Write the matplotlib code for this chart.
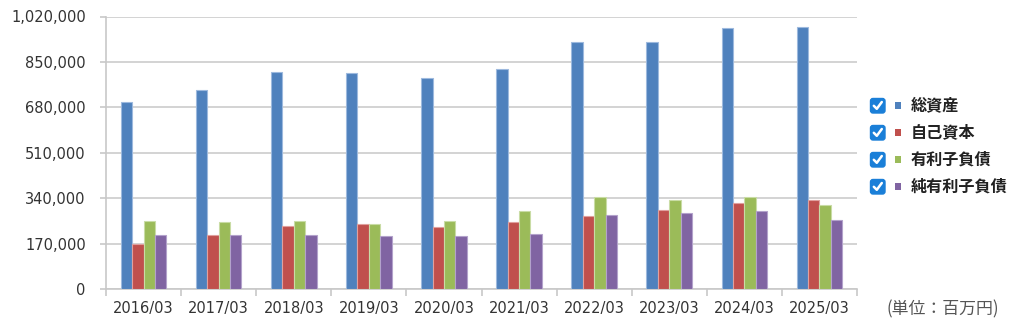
import matplotlib
matplotlib.use("Agg")
import matplotlib.pyplot as plt
import numpy as np
from matplotlib.patches import FancyBboxPatch, Rectangle
from matplotlib.ticker import FuncFormatter

plt.rcParams['font.family'] = ['DejaVu Sans', 'Noto Sans CJK JP']

years = ["2016/03", "2017/03", "2018/03", "2019/03", "2020/03",
         "2021/03", "2022/03", "2023/03", "2024/03", "2025/03"]
series_names = ["総資産", "自己資本", "有利子負債", "純有利子負債"]
total_assets = [700000, 745000, 812000, 810000, 790000, 825000, 925000, 925000, 976000, 981000]
equity = [168000, 204000, 236000, 243000, 233000, 252000, 272000, 297000, 322000, 333000]
debt = [253000, 249000, 253000, 243000, 253000, 292000, 343000, 333000, 343000, 313000]
net_debt = [204000, 204000, 204000, 198000, 198000, 207000, 278000, 283000, 293000, 257000]
y_ticks = [0, 170000, 340000, 510000, 680000, 850000, 1020000]
unit_label = "(単位：百万円)"

colors = ["#4F81BD", "#C0504D", "#9BBB59", "#8064A2"]
edges = ["#9DB9DE", "#E0A09E", "#C9DCA5", "#B3A2CB"]
values = [total_assets, equity, debt, net_debt]

fig = plt.figure(figsize=(10.24, 3.31), dpi=100)
ax = fig.add_axes([106/1024, 1-289/331, (857-106)/1024, (289-16.5)/331])

x = np.arange(len(years))
w = 0.152
for i, (vals, c, ec) in enumerate(zip(values, colors, edges)):
    ax.bar(x + (i - 1.5) * w, vals, width=w, color=c, edgecolor=ec, linewidth=0.8, zorder=3)

ax.set_xlim(-0.5, len(years) - 0.5)
ax.set_ylim(0, 1020000)
ax.set_yticks(y_ticks)
ax.yaxis.set_major_formatter(FuncFormatter(lambda v, p: f"{int(v):,}"))
ax.grid(axis='y', color='#D0D0D0', linewidth=1.3, zorder=0)
ax.set_axisbelow(True)

ax.set_xticks(x)
ax.set_xticklabels(years)
ax.set_xticks(np.arange(-0.5, len(years) + 0.5, 1), minor=True)
ax.tick_params(axis='x', which='major', length=0, pad=9, labelsize=10.5, labelcolor='#333333')
ax.tick_params(axis='x', which='minor', length=5, color='#C8C8C8', width=1.2)
ax.tick_params(axis='y', length=4.5, color='#C8C8C8', width=1.2, pad=10, labelsize=10.5, labelcolor='#333333')

for s in ['top', 'right']:
    ax.spines[s].set_visible(False)
for s in ['left', 'bottom']:
    ax.spines[s].set_color('#C8C8C8')
    ax.spines[s].set_linewidth(1.2)

# Overlay in pixel coordinates for legend + unit label
ov = fig.add_axes([0, 0, 1, 1])
ov.set_xlim(0, 1024)
ov.set_ylim(331, 0)
ov.axis('off')

row_y = [105.5, 132.5, 159.5, 186.5]
for name, c, yy in zip(series_names, colors, row_y):
    box = FancyBboxPatch((870.5, yy - 7), 14.5, 14.5,
                         boxstyle="round,pad=0,rounding_size=2.5",
                         facecolor='#1A7FD8', edgecolor='#1A7FD8', linewidth=1)
    ov.add_patch(box)
    ov.plot([873.8, 876.8, 881.8], [yy + 0.3, yy + 3.3, yy - 3.5],
            color='white', linewidth=1.8, solid_capstyle='round', solid_joinstyle='round')
    ov.add_patch(Rectangle((894.5, yy - 3.3), 6.5, 6.5, facecolor=c, edgecolor='none'))
    ov.text(910.5, yy, name, fontsize=11.6, fontweight='bold', color='#222222',
            va='center', ha='left', family=['Noto Sans CJK JP', 'DejaVu Sans'])

ov.text(887, 309, unit_label, fontsize=12.2, color='#555555', va='center', ha='left',
        family=['Noto Sans CJK JP', 'DejaVu Sans'])

fig.savefig("out.png", dpi=100)
